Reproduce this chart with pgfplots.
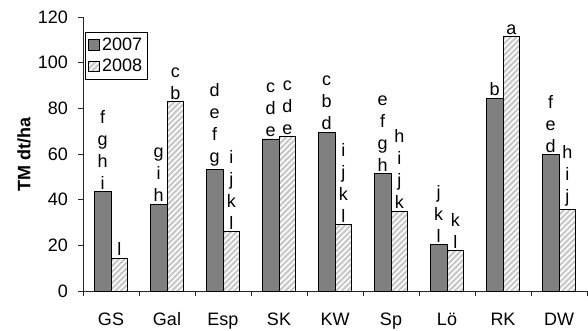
\documentclass[border=0pt]{standalone}
\usepackage{pgfplots}
\pgfplotsset{compat=1.18}
\usepackage{fontspec}
\setmainfont{Liberation Sans}
\usetikzlibrary{patterns.meta}
\definecolor{darkbar}{RGB}{128,128,128}
\definecolor{lightbar}{RGB}{200,200,200}
\begin{document}
\begin{tikzpicture}
\begin{axis}[
  at={(0,0)}, anchor=south west,
  scale only axis, width=378pt, height=205.5pt,
  xmin=-0.5, xmax=8.5, ymin=0, ymax=120,
  axis x line=bottom, axis y line=left,
  axis line style={-, line width=0.6pt, black!85},
  every tick/.style={black!85, line width=0.6pt},
  xtick={0,1,2,3,4,5,6,7,8},
  xticklabels={GS,Gal,Esp,SK,KW,Sp,Lö,RK,DW},
  major x tick style={draw=none},
  minor xtick={-0.5,0.5,1.5,2.5,3.5,4.5,5.5,6.5,7.5,8.5},
  tick align=outside, major tick length=3.75pt, minor tick length=3.75pt,
  ytick={0,20,40,60,80,100,120},
  ticklabel style={font=\fontsize{13.5}{16}\selectfont},
  /pgf/number format/assume math mode=true,
  xticklabel style={yshift=-10pt, text height=1.6ex},
  yticklabel style={xshift=-4pt},
  ylabel={\textbf{TM dt/ha}},
  ylabel style={at={(axis description cs:-0.117,0.5)}, anchor=center, font=\fontsize{13.5}{16}\selectfont},
  legend style={at={(rel axis cs:0.004,0.945)}, anchor=north west, draw=black, line width=0.6pt,
    font=\fontsize{13.5}{16}\selectfont, row sep=1pt, inner xsep=2pt, inner ysep=2pt},
  legend cell align=left,
  legend image code/.code={\draw[#1] (0pt,-4pt) rectangle (8pt,4pt);},
  nodes near coords,
  point meta=explicit symbolic,
  every node near coord/.append style={align=center, anchor=south, inner sep=1.5pt,
    font=\fontsize{13.5}{16.5}\selectfont, black},
]
\addplot[ybar, bar width=0.3, bar shift=0, fill=darkbar, draw=black, line width=0.6pt]
coordinates {
(-0.15,43.5) [{f\\g\\h\\i}]
(0.85,38.1) [{g\\i\\h}]
(1.85,53.4) [{d\\e\\f\\g}]
(2.85,66.6) [{c\\d\\e}]
(3.85,69.6) [{c\\b\\d}]
(4.85,51.4) [{e\\f\\g\\h}]
(5.85,20.4) [{j\\k\\l}]
(6.85,84.4) [{b}]
(7.85,59.7) [{f\\e\\d}]
};
\addplot[ybar, bar width=0.3, bar shift=0, fill=lightbar, draw=black, line width=0.6pt,
  postaction={pattern={Lines[angle=45, distance=3pt, line width=1.2pt]}, pattern color=white}]
coordinates {
(0.15,14.3) [{l}]
(1.15,82.9) [{c\\b}]
(2.15,26.1) [{i\\j\\k\\l}]
(3.15,67.5) [{c\\d\\e}]
(4.15,29.0) [{i\\j\\k\\l}]
(5.15,34.9) [{h\\i\\j\\k}]
(6.15,17.7) [{k\\l}]
(7.15,111.3) [{a}]
(8.15,35.9) [{h\\i\\j}]
};
\legend{2007,2008}
\end{axis}
\pgfresetboundingbox
\path (-62.25pt,-29.25pt) rectangle (378.75pt,218.25pt);
\end{tikzpicture}
\end{document}
